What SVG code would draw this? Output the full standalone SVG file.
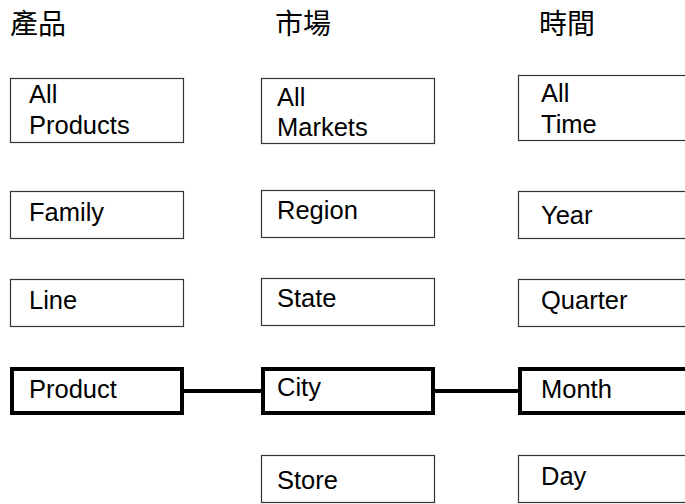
<svg xmlns="http://www.w3.org/2000/svg" width="685" height="504" viewBox="0 0 685 504">
<style>
.box{fill:#fff;stroke:#333;stroke-width:1.2}
.thick{fill:#fff;stroke:#000;stroke-width:4}
.t{font-family:"Liberation Sans",Arial,sans-serif;font-size:25.5px;fill:#000}
.h{font-family:"Noto Sans CJK TC","Noto Sans CJK SC",sans-serif;font-size:28px;fill:#000}
.conn{stroke:#000;stroke-width:4;fill:none}
</style>
<rect width="685" height="504" fill="#fff"/>
<g id="headers">
<text class="h" x="10" y="34">產品</text>
<text class="h" x="275" y="34">市場</text>
<text class="h" x="539" y="34">時間</text>
</g>
<g id="connectors">
<line class="conn" x1="183" y1="391" x2="261" y2="391"/>
<line class="conn" x1="434" y1="391" x2="518" y2="391"/>
</g>
<g id="all-products"><rect class="box" x="10.5" y="78.5" width="173" height="64"/><text class="t" x="29" y="103">All</text><text class="t" x="29" y="134">Products</text></g>
<g id="family"><rect class="box" x="10.5" y="191.5" width="173" height="47"/><text class="t" x="29" y="221">Family</text></g>
<g id="line"><rect class="box" x="10.5" y="279.5" width="173" height="47"/><text class="t" x="29" y="309">Line</text></g>
<g id="product"><rect class="thick" x="12" y="369" width="170" height="44"/><text class="t" x="29" y="398">Product</text></g>
<g id="all-markets"><rect class="box" x="261.5" y="78.5" width="173" height="65"/><text class="t" x="277" y="106">All</text><text class="t" x="277" y="136">Markets</text></g>
<g id="region"><rect class="box" x="261.5" y="190.5" width="173" height="47"/><text class="t" x="277" y="219">Region</text></g>
<g id="state"><rect class="box" x="261.5" y="278.5" width="173" height="47"/><text class="t" x="277" y="307">State</text></g>
<g id="city"><rect class="thick" x="263" y="369" width="170" height="44"/><text class="t" x="277" y="396">City</text></g>
<g id="store"><rect class="box" x="261.5" y="455.5" width="173" height="47"/><text class="t" x="277" y="489">Store</text></g>
<g id="all-time"><rect class="box" x="518.5" y="75.5" width="175" height="65"/><text class="t" x="541" y="102">All</text><text class="t" x="541" y="133">Time</text></g>
<g id="year"><rect class="box" x="518.5" y="191.5" width="175" height="47"/><text class="t" x="541" y="224">Year</text></g>
<g id="quarter"><rect class="box" x="518.5" y="279.5" width="175" height="47"/><text class="t" x="541" y="309">Quarter</text></g>
<g id="month"><rect class="thick" x="520" y="369" width="175" height="44"/><text class="t" x="541" y="398">Month</text></g>
<g id="day"><rect class="box" x="518.5" y="455.5" width="175" height="47"/><text class="t" x="541" y="485">Day</text></g>
</svg>
